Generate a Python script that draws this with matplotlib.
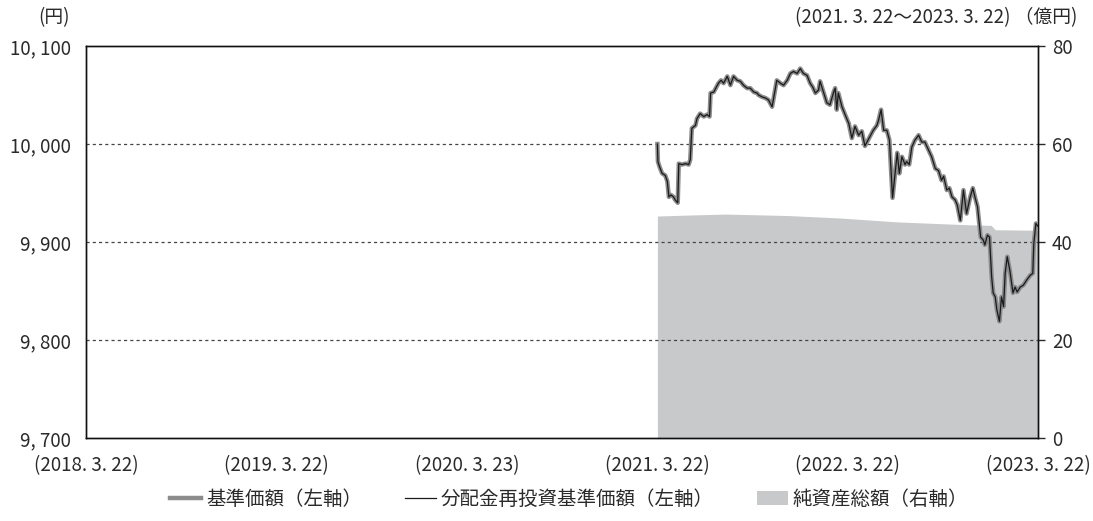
import matplotlib
matplotlib.use("Agg")
import matplotlib.pyplot as plt
from matplotlib.lines import Line2D
from matplotlib.patches import Patch
import pandas as pd

plt.rcParams['font.family'] = ['Noto Sans CJK JP', 'DejaVu Sans']

# ---- data ----
start_date = "2021-03-22"
nav_days = [0, 1, 4, 9, 15, 19, 22, 26, 31, 34, 39, 41, 47, 54, 60, 63, 66, 73, 76, 82,
            89, 95, 100, 102, 108, 113, 117, 122, 127, 134, 140, 146, 153, 159, 165, 172,
            178, 185, 191, 194, 201, 207, 213, 220, 229, 236, 242, 249, 255, 261, 268, 274,
            280, 287, 293, 298, 303, 309, 312, 319, 325, 331, 338, 341, 344, 347, 354, 360,
            367, 373, 379, 386, 392, 398, 411, 414, 421, 424, 429, 434, 440, 445, 451, 456,
            460, 464, 469, 475, 478, 483, 488, 494, 501, 507, 513, 520, 526, 533, 539, 545,
            549, 555, 560, 565, 571, 575, 581, 587, 593, 600, 605, 609, 614, 618, 620, 625,
            628, 633, 637, 641, 644, 648, 651, 656, 660, 664, 667, 671, 676, 682, 686, 690,
            696, 702, 708, 715, 720, 722, 726, 730]
nav_values = [10000, 9982, 9977, 9970, 9968, 9962, 9946, 9948, 9946, 9943, 9940, 9980, 9979,
              9980, 9979, 9984, 10016, 10019, 10026, 10031, 10028, 10030, 10028, 10052, 10053,
              10058, 10062, 10065, 10062, 10069, 10060, 10069, 10065, 10064, 10060, 10057,
              10057, 10053, 10052, 10050, 10048, 10047, 10045, 10038, 10065, 10062, 10060,
              10065, 10072, 10074, 10072, 10077, 10072, 10070, 10062, 10058, 10052, 10055,
              10064, 10052, 10042, 10040, 10053, 10057, 10035, 10052, 10038, 10030, 10021,
              10006, 10018, 10009, 10013, 9998, 10011, 10014, 10019, 10024, 10035, 10014,
              10014, 10004, 9945, 9970, 9991, 9970, 9987, 9979, 9982, 9979, 9997, 10004,
              10009, 10002, 10002, 9994, 9987, 9975, 9973, 9963, 9967, 9953, 9955, 9946,
              9943, 9938, 9922, 9953, 9929, 9946, 9955, 9946, 9936, 9916, 9905, 9902, 9897,
              9907, 9905, 9865, 9848, 9844, 9831, 9819, 9844, 9834, 9868, 9885, 9871, 9848,
              9854, 9849, 9854, 9856, 9861, 9866, 9868, 9899, 9919, 9916]
reinv_values = nav_values  # no distributions paid: identical series

aum_days = [0, 60, 130, 250, 350, 460, 600, 640, 648, 730]
aum_values = [45.3, 45.5, 45.7, 45.4, 44.9, 44.1, 43.5, 43.4, 42.5, 42.4]

xtick_dates = ["2018-03-22", "2019-03-22", "2020-03-23", "2021-03-22", "2022-03-22", "2023-03-22"]
xtick_labels = ["(2018. 3. 22)", "(2019. 3. 22)", "(2020. 3. 23)", "(2021. 3. 22)",
                "(2022. 3. 22)", "(2023. 3. 22)"]
left_ticks = [9700, 9800, 9900, 10000, 10100]
right_ticks = [0, 20, 40, 60, 80]
legend_labels = ["基準価額（左軸）", "分配金再投資基準価額（左軸）", "純資産総額（右軸）"]

# ---- build ----
t0 = pd.Timestamp(start_date)
nav_dates = [t0 + pd.Timedelta(days=d) for d in nav_days]
aum_dates = [t0 + pd.Timedelta(days=d) for d in aum_days]

fig = plt.figure(figsize=(10.93, 5.21), dpi=100)
ax = fig.add_axes([86/1093, 83/521, (1038-86)/1093, (438-46)/521])
ax2 = ax.twinx()

area_color = "#c8c9cb"
ax2.fill_between(aum_dates, 0, aum_values, color=area_color, lw=0)
ax2.set_ylim(0, 80)
ax2.set_yticks(right_ticks)
ax2.set_yticklabels([str(v) for v in right_ticks])

ax.set_zorder(ax2.get_zorder() + 1)
ax.patch.set_visible(False)

ax.plot(nav_dates, nav_values, color="#8c8c8c", lw=3.2, solid_joinstyle="round", zorder=3)
ax.plot(nav_dates, reinv_values, color="#1a1a1a", lw=0.9, zorder=4)

ax.set_ylim(9700, 10100)
ax.set_yticks(left_ticks)
ax.set_yticklabels([f"{v:,}".replace(",", ", ") for v in left_ticks])
for v in [9800, 9900, 10000]:
    ax.axhline(v, color="#444444", lw=0.9, ls=(0, (2.5, 2.5)), zorder=2)

ax.set_xlim(pd.Timestamp("2018-03-22"), pd.Timestamp("2023-03-22"))
ax.set_xticks([pd.Timestamp(d) for d in xtick_dates])
ax.set_xticklabels(xtick_labels)

fs = 13.5
tc = "#2a2a2a"
ax.tick_params(axis="x", length=0, pad=12, labelsize=fs, colors=tc)
ax.tick_params(axis="y", length=0, pad=11, labelsize=fs, colors=tc)
ax2.tick_params(axis="y", length=5, width=1, pad=5, labelsize=fs, colors=tc)
ax2.tick_params(axis="x", length=0)

for a in (ax, ax2):
    for s in a.spines.values():
        s.set_color("#111111")
        s.set_linewidth(1.0)

fig.text(70/1093, 1 - 18/521, "(円)", ha="right", va="center", fontsize=fs, color=tc)
fig.text(1077/1093, 1 - 18/521, "(2021. 3. 22～2023. 3. 22) （億円)", ha="right", va="center",
         fontsize=fs, color=tc)

handles = [Line2D([0], [0], color="#8c8c8c", lw=3.2),
           Line2D([0], [0], color="#1a1a1a", lw=0.9),
           Patch(facecolor=area_color, edgecolor="none")]
fig.legend(handles, legend_labels, loc="center", bbox_to_anchor=(569/1093, 22/521), ncol=3,
           frameon=False, fontsize=14, handlelength=1.6, handletextpad=0.25,
           columnspacing=2.2, labelcolor=tc)

fig.savefig("out.png", dpi=100)
